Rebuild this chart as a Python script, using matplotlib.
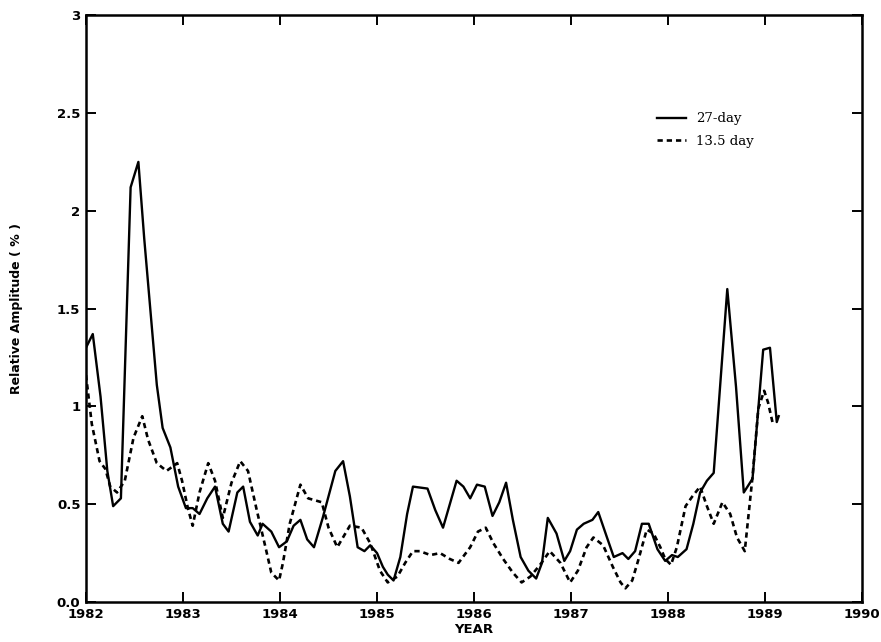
import matplotlib
matplotlib.use("Agg")
import matplotlib.pyplot as plt

# 27-day amplitude (solid)
yr_27 = [1982.00, 1982.07, 1982.15, 1982.22, 1982.28, 1982.36, 1982.46, 1982.54,
         1982.60, 1982.73, 1982.79, 1982.87, 1982.95, 1983.03, 1983.10, 1983.17,
         1983.25, 1983.33, 1983.41, 1983.47, 1983.56, 1983.62, 1983.69, 1983.77,
         1983.82, 1983.91, 1983.99, 1984.07, 1984.14, 1984.21, 1984.28, 1984.35,
         1984.44, 1984.57, 1984.65, 1984.72, 1984.80, 1984.87, 1984.93, 1985.00,
         1985.06, 1985.11, 1985.17, 1985.24, 1985.31, 1985.37, 1985.52, 1985.60,
         1985.68, 1985.75, 1985.82, 1985.89, 1985.96, 1986.03, 1986.11, 1986.19,
         1986.26, 1986.33, 1986.40, 1986.48, 1986.56, 1986.64, 1986.70, 1986.76,
         1986.85, 1986.93, 1986.99, 1987.06, 1987.13, 1987.22, 1987.28, 1987.37,
         1987.44, 1987.53, 1987.59, 1987.66, 1987.73, 1987.80, 1987.89, 1987.97,
         1988.04, 1988.10, 1988.19, 1988.26, 1988.33, 1988.40, 1988.47, 1988.54,
         1988.61, 1988.70, 1988.78, 1988.87, 1988.92, 1988.98, 1989.05, 1989.12,
         1989.14]
amp_27 = [1.30, 1.37, 1.05, 0.67, 0.49, 0.53, 2.12, 2.25,
          1.86, 1.11, 0.89, 0.79, 0.59, 0.48, 0.48, 0.45,
          0.53, 0.59, 0.40, 0.36, 0.56, 0.59, 0.41, 0.34,
          0.40, 0.36, 0.28, 0.31, 0.39, 0.42, 0.32, 0.28,
          0.43, 0.67, 0.72, 0.54, 0.28, 0.26, 0.29, 0.25,
          0.18, 0.14, 0.11, 0.23, 0.45, 0.59, 0.58, 0.47,
          0.38, 0.50, 0.62, 0.59, 0.53, 0.60, 0.59, 0.44,
          0.51, 0.61, 0.42, 0.23, 0.16, 0.12, 0.20, 0.43,
          0.35, 0.21, 0.26, 0.37, 0.40, 0.42, 0.46, 0.33,
          0.23, 0.25, 0.22, 0.26, 0.40, 0.40, 0.27, 0.21,
          0.24, 0.23, 0.27, 0.40, 0.56, 0.62, 0.66, 1.13,
          1.60, 1.10, 0.56, 0.63, 0.93, 1.29, 1.30, 0.92,
          0.95]

# 13.5-day amplitude (dotted)
yr_13 = [1982.00, 1982.06, 1982.14, 1982.20, 1982.25, 1982.32, 1982.40, 1982.49,
         1982.58, 1982.64, 1982.73, 1982.83, 1982.94, 1982.99, 1983.05, 1983.10,
         1983.17, 1983.26, 1983.33, 1983.41, 1983.50, 1983.59, 1983.67, 1983.76,
         1983.85, 1983.91, 1983.99, 1984.03, 1984.10, 1984.21, 1984.29, 1984.43,
         1984.50, 1984.59, 1984.72, 1984.84, 1984.93, 1985.03, 1985.11, 1985.21,
         1985.29, 1985.37, 1985.44, 1985.55, 1985.65, 1985.75, 1985.84, 1985.96,
         1986.04, 1986.12, 1986.20, 1986.30, 1986.40, 1986.49, 1986.58, 1986.68,
         1986.78, 1986.89, 1986.99, 1987.07, 1987.16, 1987.23, 1987.33, 1987.43,
         1987.51, 1987.56, 1987.63, 1987.69, 1987.78, 1987.85, 1987.92, 1987.97,
         1988.03, 1988.09, 1988.18, 1988.25, 1988.33, 1988.40, 1988.47, 1988.56,
         1988.64, 1988.71, 1988.79, 1988.87, 1988.93, 1988.99, 1989.03, 1989.08]
amp_13 = [1.16, 0.91, 0.72, 0.68, 0.59, 0.56, 0.62, 0.84,
          0.95, 0.83, 0.71, 0.67, 0.71, 0.62, 0.48, 0.39,
          0.56, 0.71, 0.62, 0.43, 0.61, 0.72, 0.67, 0.47,
          0.28, 0.15, 0.11, 0.20, 0.40, 0.60, 0.53, 0.51,
          0.38, 0.28, 0.39, 0.38, 0.30, 0.16, 0.10, 0.13,
          0.20, 0.26, 0.26, 0.24, 0.25, 0.22, 0.20, 0.28,
          0.36, 0.38, 0.30, 0.22, 0.15, 0.10, 0.13, 0.19,
          0.26, 0.20, 0.10, 0.16, 0.28, 0.33, 0.29, 0.18,
          0.10, 0.07, 0.11, 0.21, 0.37, 0.35, 0.28, 0.22,
          0.19, 0.28, 0.49, 0.54, 0.59, 0.49, 0.40, 0.51,
          0.45, 0.33, 0.26, 0.64, 0.99, 1.08, 1.02, 0.91]

x_ticks = list(range(1982, 1991))
y_ticks = [0.0, 0.5, 1.0, 1.5, 2.0, 2.5, 3.0]
y_ticklabels = ["0.0", "0.5", "1", "1.5", "2", "2.5", "3"]

fig = plt.figure(figsize=(8.81, 6.42), dpi=100)
ax = fig.add_axes([0.0976, 0.0623, 0.881, 0.914])

ax.plot(yr_27, amp_27, color="black", lw=1.7, label="27-day")
ax.plot(yr_13, amp_13, color="black", lw=1.9, linestyle=(0, (2.0, 1.5)),
        label="13.5 day")

ax.set_xlim(1982, 1990)
ax.set_ylim(0, 3)
ax.set_xticks(x_ticks)
ax.set_xticklabels([str(t) for t in x_ticks], fontweight="bold", fontsize=9.5)
ax.set_yticks(y_ticks)
ax.set_yticklabels(y_ticklabels, fontweight="bold", fontsize=9.5)
ax.tick_params(direction="in", length=7, width=1.4, top=True, right=True,
               pad=4)
for s in ax.spines.values():
    s.set_linewidth(1.8)

ax.set_xlabel("YEAR", fontweight="bold", fontsize=9.5, labelpad=2)
ax.set_ylabel("Relative Amplitude ( % )", fontsize=9, fontweight="semibold",
              labelpad=24)

leg = ax.legend(loc="upper left", bbox_to_anchor=(0.72, 0.855), frameon=False,
                prop={"family": "DejaVu Serif", "size": 9.5},
                handlelength=2.2, labelspacing=0.75)

fig.savefig("out.png", dpi=100)
